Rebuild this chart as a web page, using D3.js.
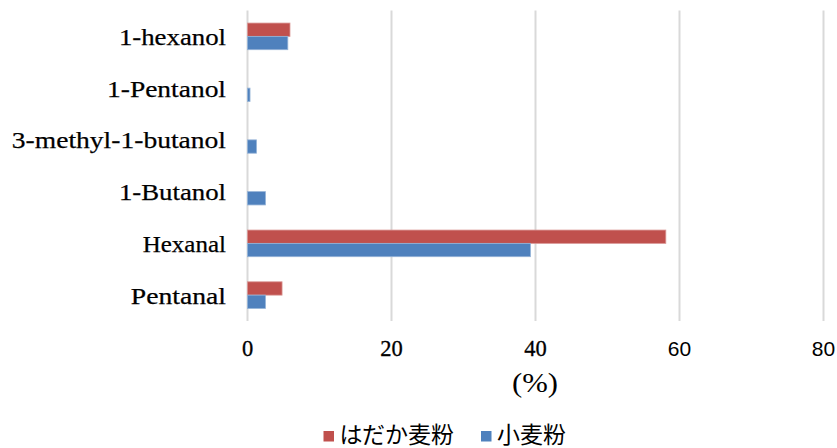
<!DOCTYPE html>
<html>
<head>
<meta charset="utf-8">
<script src="https://cdn.jsdelivr.net/npm/d3@7"></script>
<style>
  html, body { margin: 0; padding: 0; background: #fff; }
  svg { display: block; }
</style>
</head>
<body>
<svg id="chart" width="837" height="448"></svg>
<script>
// Volatile compounds (%), top to bottom
const categories = ["1-hexanol", "1-Pentanol", "3-methyl-1-butanol", "1-Butanol", "Hexanal", "Pentanal"];
const seriesNames = ["はだか麦粉", "小麦粉"];
const hadakaValues = [5.9, 0, 0, 0, 58.1, 4.8];
const wheatValues = [5.6, 0.35, 1.25, 2.5, 39.3, 2.5];
const xTicks = [0, 20, 40, 60, 80];
const axisTitle = "(%)";
const colors = ["#C0504D", "#4F81BD"];
const strokes = ["#D99694", "#95B3D7"];

const serif = "'Liberation Serif', 'Times New Roman', serif";
const sans = "'Liberation Sans', Arial, sans-serif";
const cjk = "'Noto Sans CJK JP', sans-serif";

const svg = d3.select("#chart");
const margin = { top: 10.5, left: 247, right: 14, bottom: 127 };
const W = 837, H = 448;
const plotW = W - margin.left - margin.right;
const plotH = H - margin.top - margin.bottom;

const x = d3.scaleLinear().domain([0, 80]).range([0, plotW]);
const y = d3.scaleBand().domain(categories).range([0, plotH]).paddingInner(0.485).paddingOuter(0.2425);
const ySub = d3.scaleBand().domain(seriesNames).range([0, y.bandwidth()]);

const g = svg.append("g").attr("transform", `translate(${margin.left},${margin.top})`);

// gridlines (including the 0 baseline)
const grid = g.append("g")
  .call(d3.axisBottom(x).tickValues(xTicks).tickSize(plotH).tickFormat(""));
grid.select(".domain").remove();
grid.selectAll("line").attr("stroke", "#D9D9D9").attr("stroke-width", 2);

// bars
const seriesData = [hadakaValues, wheatValues];
seriesData.forEach((vals, si) => {
  g.append("g").selectAll("rect")
    .data(categories.map((c, i) => ({ c, v: vals[i] })).filter(d => d.v > 0))
    .join("rect")
    .attr("x", x(0) + 0.5)
    .attr("y", d => y(d.c) + ySub(seriesNames[si]))
    .attr("width", d => x(d.v) - x(0))
    .attr("height", ySub.bandwidth())
    .attr("fill", colors[si])
    .attr("stroke", strokes[si])
    .attr("stroke-width", 0.8);
});

// x tick labels
const xAxis = g.append("g")
  .attr("transform", `translate(0,${plotH})`)
  .call(d3.axisBottom(x).tickValues(xTicks).tickSize(0));
xAxis.attr("font-family", null).attr("font-size", null);
xAxis.select(".domain").remove();
xAxis.selectAll("text")
  .attr("y", 35)
  .attr("dy", 0)
  .style("font-family", d => d >= 60 ? sans : serif)
  .style("font-size", d => (d >= 60 ? 21 : 22.5) + "px")
  .attr("stroke", d => d >= 60 ? "none" : "#000")
  .attr("stroke-width", 0.3)
  .attr("fill", "#000");

// category labels
const yAxis = g.append("g")
  .call(d3.axisLeft(y).tickSize(0).tickPadding(21));
yAxis.attr("font-family", null).attr("font-size", null);
yAxis.select(".domain").remove();
yAxis.selectAll("text")
  .style("font-family", serif)
  .style("font-size", "24px")
  .attr("fill", "#000")
  .attr("stroke", "#000")
  .attr("stroke-width", 0.25)
  .attr("dy", 8.5)
  .attr("textLength", d => d.length * 11.9)
  .attr("lengthAdjust", "spacingAndGlyphs");

// axis title
svg.append("text")
  .attr("x", margin.left + plotW / 2)
  .attr("y", 392)
  .attr("text-anchor", "middle")
  .style("font-family", serif)
  .style("font-size", "28px")
  .attr("fill", "#000")
  .attr("textLength", 46)
  .attr("lengthAdjust", "spacingAndGlyphs")
  .text(axisTitle);

// legend
const legendItems = [{ name: seriesNames[0], x: 323.5 }, { name: seriesNames[1], x: 481 }];
const legend = svg.append("g");
legendItems.forEach((d, i) => {
  legend.append("rect")
    .attr("x", d.x).attr("y", 431)
    .attr("width", 10.5).attr("height", 10.5)
    .attr("fill", colors[i]);
  legend.append("text")
    .attr("x", d.x + 16).attr("y", 442.5)
    .style("font-family", cjk)
    .style("font-size", "23px")
    .attr("fill", "#000")
    .text(d.name);
});
</script>
</body>
</html>
